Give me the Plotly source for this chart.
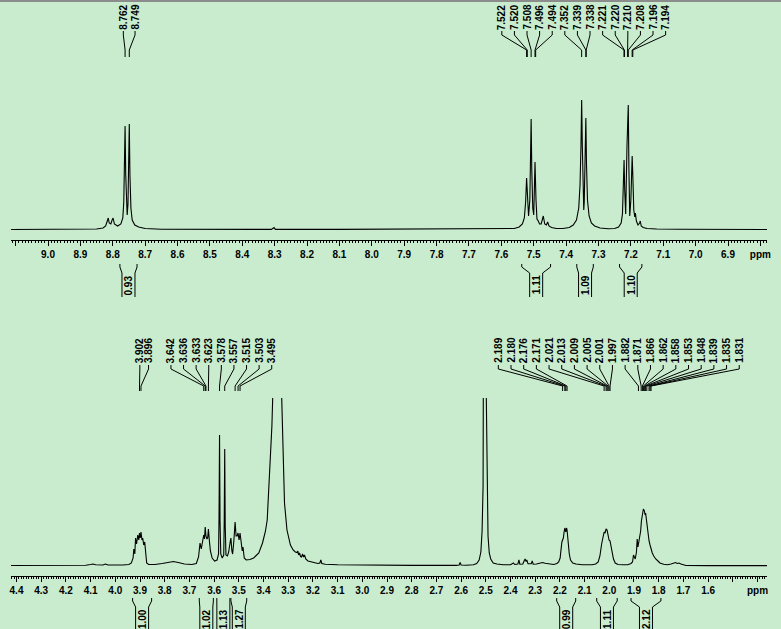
import plotly.graph_objects as go

# ---------------- data ----------------
# Upper spectrum (aromatic region): chemical shift (ppm) and signal height
top_ppm = [
    9.114, 9.0, 8.9, 8.85, 8.83, 8.822, 8.817, 8.814, 8.811, 8.806, 8.802, 8.799, 8.795,
    8.785, 8.775, 8.769, 8.766, 8.764, 8.762, 8.760, 8.758, 8.7555, 8.753, 8.751, 8.749,
    8.747, 8.744, 8.740, 8.732, 8.72, 8.70, 8.65, 8.5, 8.31, 8.302, 8.298, 8.1, 7.8, 7.6,
    7.56, 7.545, 7.535, 7.529, 7.525, 7.522, 7.519, 7.516, 7.512, 7.510, 7.508, 7.506,
    7.503, 7.500, 7.498, 7.496, 7.493, 7.490, 7.486, 7.482, 7.477, 7.4705, 7.466, 7.461, 7.457, 7.453, 7.445,
    7.43, 7.41, 7.39, 7.378, 7.368, 7.361, 7.357, 7.354, 7.352, 7.350, 7.347, 7.3455,
    7.344, 7.341, 7.339, 7.337, 7.334, 7.329, 7.322, 7.312, 7.295, 7.27, 7.25,
    7.238, 7.23, 7.226, 7.223, 7.221, 7.219, 7.216, 7.212, 7.210, 7.208, 7.206, 7.2035,
    7.200, 7.198, 7.196, 7.194, 7.191, 7.188, 7.186, 7.183, 7.178, 7.173, 7.171, 7.168, 7.162, 7.15, 7.12, 7.05, 6.9, 6.7796,
]
top_int = [
    0.5, 0.5, 0.6, 1, 2, 4, 9, 12, 7, 6, 10, 12, 6,
    4, 6, 12, 28, 60, 104, 55, 26, 15, 26, 58, 106,
    55, 22, 10, 5, 3, 1.5, 0.8, 0.6, 0.6, 2.5, 0.6, 0.6, 0.7, 0.8,
    1.5, 3, 6, 12, 28, 52, 30, 14, 30, 60, 111, 60,
    22, 15, 35, 68, 30, 11, 9, 6, 6, 14, 6, 5, 8, 4, 2.5,
    1.5, 1.5, 2.5, 5, 10, 22, 45, 85, 130, 85, 38, 20,
    28, 65, 112, 65, 30, 14, 7, 4, 2, 1.2, 1.5,
    3, 7, 16, 40, 70, 40, 16, 84, 110, 125, 60, 14,
    30, 50, 74, 55, 20, 13, 17, 9, 5, 7, 9, 4, 2.5, 1.5, 1, 0.7, 0.6, 0.5,
]

# Lower spectrum (aliphatic region)
bot_ppm = [
    4.4223, 4.30, 4.20, 4.12, 4.10, 4.09, 4.08, 4.05, 4.04, 4.03, 3.97, 3.945,
    3.935, 3.928, 3.925, 3.921, 3.918, 3.914, 3.909, 3.905, 3.902, 3.899, 3.896, 3.892, 3.889, 3.885, 3.881, 3.877, 3.873, 3.865,
    3.84, 3.81, 3.79, 3.765, 3.745, 3.72, 3.69, 3.672, 3.663, 3.657, 3.652, 3.646, 3.642, 3.639,
    3.636, 3.633, 3.629, 3.626, 3.623, 3.619, 3.615, 3.608, 3.598, 3.588, 3.582, 3.580, 3.578, 3.576, 3.573,
    3.567, 3.561, 3.559, 3.557, 3.555, 3.552, 3.546, 3.541, 3.535, 3.532, 3.528, 3.525, 3.520, 3.515,
    3.511, 3.507, 3.503, 3.499, 3.495, 3.491, 3.489, 3.486, 3.483, 3.478, 3.470, 3.455, 3.44, 3.43,
    3.419, 3.404, 3.392, 3.385, 3.379, 3.372, 3.366, 3.362, 3.345, 3.327, 3.322, 3.315, 3.305, 3.291, 3.280,
    3.271, 3.264, 3.261, 3.258, 3.254, 3.250, 3.246, 3.242, 3.238, 3.234, 3.229, 3.22, 3.20,
    3.18, 3.172, 3.168, 3.164, 3.15, 3.1, 3.0, 2.8, 2.62, 2.608, 2.604, 2.600, 2.58, 2.55,
    2.537, 2.527, 2.520, 2.515, 2.511, 2.508, 2.503, 2.498, 2.495, 2.491, 2.486, 2.480, 2.47, 2.455, 2.43, 2.40,
    2.388, 2.383, 2.370, 2.366, 2.362, 2.350, 2.345, 2.341, 2.337, 2.334, 2.329, 2.316, 2.312, 2.308,
    2.295, 2.28, 2.27, 2.26, 2.245, 2.225, 2.212, 2.205, 2.199, 2.195, 2.192, 2.189, 2.186, 2.183,
    2.180, 2.176, 2.173, 2.171, 2.167, 2.162, 2.157, 2.148, 2.135, 2.11, 2.07, 2.055, 2.045, 2.038,
    2.031, 2.026, 2.021, 2.017, 2.013, 2.009, 2.005, 2.001, 1.997, 1.993, 1.989, 1.983, 1.976, 1.965,
    1.945, 1.925, 1.912, 1.906, 1.902, 1.899, 1.895, 1.890, 1.887, 1.884, 1.882, 1.877, 1.873, 1.870,
    1.866, 1.862, 1.858, 1.855, 1.853, 1.850, 1.848, 1.843, 1.839, 1.835, 1.831, 1.826, 1.820, 1.812,
    1.803, 1.795, 1.78, 1.765, 1.75, 1.74, 1.732, 1.725, 1.718, 1.71, 1.70, 1.69, 1.60, 1.50, 1.3615,
]
bot_int = [
    0.5, 0.5, 0.6, 0.8, 1.5, 2, 1.2, 1, 2, 1, 1, 1.5,
    3, 8, 17, 12, 28, 22, 31, 26, 33, 28, 34, 26, 28, 21, 24, 10, 3, 1.5,
    1.5, 2.5, 3.5, 4.5, 3.5, 2, 1.5, 2.5, 9, 23, 17, 25, 31, 27,
    39, 30, 27, 28, 37, 25, 15, 8, 5, 6, 12, 50, 131, 45, 12,
    8, 11, 45, 117, 40, 11, 10, 14, 24, 28, 15, 12, 25, 44,
    30, 30, 33, 26, 33, 22, 19, 15, 19, 8, 6, 6.5, 8, 10,
    13, 23, 35, 46, 73, 103, 140, 175, 700, 175, 113, 63, 36, 21, 16,
    14, 13.5, 15, 11, 13, 9.5, 9, 12, 9, 11, 7, 5, 3.5,
    2.5, 3, 6, 2.5, 1.8, 1.2, 0.8, 0.6, 0.6, 1, 3.5, 1, 0.8, 1.2,
    2.5, 6, 14, 35, 80, 170, 900, 170, 80, 30, 13, 7, 3, 2, 1.3, 1.2,
    3, 1.5, 2, 6, 1.8, 2, 5, 7, 4.5, 6, 2.2, 2.2, 5, 1.8,
    2, 3, 3.5, 2.8, 2, 1.5, 2.5, 4, 8, 20, 24, 26, 28, 34,
    38, 34, 38, 36, 23, 12, 6, 3, 2, 1.3, 1.3, 2, 4, 10,
    22, 28, 34, 33, 37, 36, 28, 26, 25, 19, 14, 7, 3, 1.5,
    1.2, 1.3, 2.5, 4, 11, 9, 7, 14, 27, 19, 22, 25, 35, 45,
    54, 57, 55, 51, 53, 46, 42, 30, 25, 21, 16, 13, 10, 7,
    5, 3, 1.8, 1.2, 2, 3, 3.5, 2.5, 3, 2, 1.2, 0.5, 0.4, 0.4, 0.4,
]
assert len(top_ppm) == len(top_int) and len(bot_ppm) == len(bot_int)

# Picked peaks (grouped labels)
top_peak_groups = [
    [8.762, 8.749],
    [7.522, 7.520, 7.508, 7.496, 7.494, 7.352, 7.339, 7.338, 7.221, 7.220, 7.210, 7.208, 7.196, 7.194],
]
bot_peak_groups = [
    [3.902, 3.896],
    [3.642, 3.636, 3.633, 3.623, 3.578, 3.557, 3.515, 3.503, 3.495],
    [2.189, 2.180, 2.176, 2.171, 2.021, 2.013, 2.009, 2.005, 2.001, 1.997,
     1.882, 1.871, 1.866, 1.862, 1.858, 1.853, 1.848, 1.839, 1.835, 1.831],
]

# Integrals: start ppm, end ppm, value
top_int_start = [8.778, 7.537, 7.367, 7.235]
top_int_end = [8.725, 7.448, 7.316, 7.166]
top_int_value = ["0.93", "1.11", "1.09", "1.10"]
bot_int_start = [3.930, 3.660, 3.589, 3.532, 2.213, 2.051, 1.912]
bot_int_end = [3.853, 3.603, 3.536, 3.468, 2.136, 1.968, 1.791]
bot_int_value = ["1.00", "1.02", "1.13", "1.27", "0.99", "1.11", "2.12"]

# Axis tick values
top_ticks = [9.1, 9.0, 8.9, 8.8, 8.7, 8.6, 8.5, 8.4, 8.3, 8.2, 8.1, 8.0, 7.9, 7.8, 7.7,
             7.6, 7.5, 7.4, 7.3, 7.2, 7.1, 7.0, 6.9, 6.8]
bot_ticks = [4.4, 4.3, 4.2, 4.1, 4.0, 3.9, 3.8, 3.7, 3.6, 3.5, 3.4, 3.3, 3.2, 3.1, 3.0,
             2.9, 2.8, 2.7, 2.6, 2.5, 2.4, 2.3, 2.2, 2.1, 2.0, 1.9, 1.8, 1.7, 1.6, 1.5, 1.4]

# ---------------- layout constants ----------------
W, H = 781, 629
ML, MR = 11, 14
PW = W - ML - MR
BG = "#C8ECCD"
FONT = "Liberation Sans, Arial, Helvetica, sans-serif"

top_range = [9.1143, 6.7796]
bot_range = [4.4223, 1.3615]

# label-column placement (centre in ppm, spacing in pixels)
top_label_centre = [8.7493, 7.3456]
top_label_gap = [11.7, 12.6]
bot_label_centre = [3.883, 3.5707, 1.9616]
bot_label_gap = [8.7, 12.6, 12.68]


def py(p):
    """pixel row -> paper y"""
    return 1 - p / H


def tick_text(vals, first_blank):
    out = []
    for i, v in enumerate(vals):
        if i == len(vals) - 1:
            out.append("ppm")
        elif first_blank and i == 0:
            out.append("")
        elif (not first_blank) and i == len(vals) - 2:
            out.append("")
        else:
            out.append(f"{v:.1f}")
    return out


fig = go.Figure()
fig.add_trace(go.Scatter(x=top_ppm, y=top_int, mode="lines", xaxis="x", yaxis="y",
                         line=dict(color="black", width=1.1), hoverinfo="skip"))
fig.add_trace(go.Scatter(x=bot_ppm, y=bot_int, mode="lines", xaxis="x2", yaxis="y2",
                         line=dict(color="black", width=1.1), hoverinfo="skip"))

axis_common = dict(
    tickmode="array", ticks="outside", ticklen=5, tickwidth=1, tickcolor="black",
    showline=True, linecolor="black", linewidth=1, showgrid=False, zeroline=False,
    tickfont=dict(family=FONT, size=10, color="black", weight="bold"),
    minor=dict(ticks="outside", ticklen=2, tickwidth=1, tickcolor="black",
               tick0=0, dtick=0.01, showgrid=False),
    fixedrange=True,
)

fig.update_layout(
    width=W, height=H,
    margin=dict(l=ML, r=MR, t=0, b=0),
    paper_bgcolor=BG, plot_bgcolor=BG,
    showlegend=False,
    xaxis=dict(domain=[0, 1], anchor="y", range=top_range, tickvals=top_ticks,
               ticktext=tick_text(top_ticks, True), **axis_common),
    yaxis=dict(domain=[py(240), py(88)], range=[-10, 142], visible=False, fixedrange=True),
    xaxis2=dict(domain=[0, 1], anchor="y2", range=bot_range, tickvals=bot_ticks,
                ticktext=tick_text(bot_ticks, False), **axis_common),
    yaxis2=dict(domain=[py(576), py(398)], range=[-10, 168], visible=False, fixedrange=True),
)

shapes = []
annotations = []

# top frame line
shapes.append(dict(type="line", xref="paper", yref="paper", x0=-ML / PW, x1=1 + MR / PW,
                   y0=py(1), y1=py(1), line=dict(color="#8c8c8c", width=2)))


def add_peak_labels(groups, centres, gaps, xref, xr, text_y, y_a, y_b, y_c, y_d):
    ppp = PW / abs(xr[0] - xr[1])  # pixels per ppm
    for grp, centre, gap in zip(groups, centres, gaps):
        n = len(grp)
        for i, v in enumerate(grp):
            lx = centre - (i - (n - 1) / 2) * gap / ppp
            annotations.append(dict(
                x=lx, y=py(text_y), xref=xref, yref="paper", text=f"{v:.3f}",
                textangle=-90, showarrow=False, xanchor="center", yanchor="middle",
                font=dict(family=FONT, size=10, color="black", weight="bold")))
            path = (f"M {lx},{py(y_a)} L {lx},{py(y_b)} L {v},{py(y_c)} L {v},{py(y_d)}")
            shapes.append(dict(type="path", xref=xref, yref="paper", path=path,
                               line=dict(color="black", width=1)))


def add_integrals(starts, ends, values, xref, xr, top, text_y, bottom):
    ppp = PW / abs(xr[0] - xr[1])
    for a, b, t in zip(starts, ends, values):
        c = (a + b) / 2
        half_outer = (a - b) / 2 * ppp
        inner = min(half_outer, 6.5) / ppp
        for edge, sign in ((a, 1), (b, -1)):
            path = (f"M {edge},{py(top)} L {edge},{py(top + 3)} "
                    f"L {c + sign * inner},{py(top + 9)} L {c + sign * inner},{py(bottom)}")
            shapes.append(dict(type="path", xref=xref, yref="paper", path=path,
                               line=dict(color="black", width=1)))
        annotations.append(dict(
            x=c, y=py(text_y), xref=xref, yref="paper", text=t, textangle=-90,
            showarrow=False, xanchor="center", yanchor="middle",
            font=dict(family=FONT, size=10, color="black", weight="bold")))


add_peak_labels(top_peak_groups, top_label_centre, top_label_gap, "x", top_range,
                17.5, 31, 35, 50, 57)
add_peak_labels(bot_peak_groups, bot_label_centre, bot_label_gap, "x2", bot_range,
                350.5, 365, 369, 386, 391)
add_integrals(top_int_start, top_int_end, top_int_value, "x", top_range, 264, 285, 297)
add_integrals(bot_int_start, bot_int_end, bot_int_value, "x2", bot_range, 598, 619, 632)

fig.update_layout(shapes=shapes, annotations=annotations)

fig.write_html(
    "out.html",
    config={"displayModeBar": False, "staticPlot": True},
    post_script="document.body.style.margin='0';document.body.style.background='" + BG + "';",
)
